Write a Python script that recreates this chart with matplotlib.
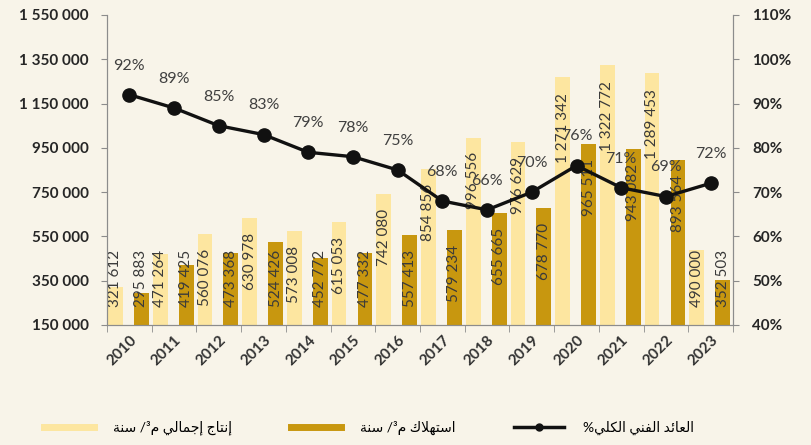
import matplotlib.pyplot as plt
from matplotlib.lines import Line2D
from matplotlib.ticker import FuncFormatter
import numpy as np

#%% Dados

anos = ['2010', '2011', '2012', '2013', '2014', '2015', '2016',
        '2017', '2018', '2019', '2020', '2021', '2022', '2023']
producao = [321612, 471264, 560076, 630978, 573008, 615053, 742080,
            854856, 996556, 976629, 1271342, 1322772, 1289453, 490000]
consumo = [295883, 419425, 473368, 524426, 452772, 477332, 557413,
           579234, 655665, 678770, 965511, 943082, 893564, 352503]
rendimento = [92, 89, 85, 83, 79, 78, 75, 68, 66, 70, 76, 71, 69, 72]

txt_producao = 'إنتاج إجمالي م³/ سنة'
txt_consumo = 'استهلاك م³/ سنة'
txt_rendimento = 'العائد الفني الكلي%'

#%% Arabic shaping (matplotlib has no shaping of its own)

# isolated, final, initial, medial
FORMAS = {
    'ا': ('\uFE8D', '\uFE8E'), 'إ': ('\uFE87', '\uFE88'),
    'د': ('\uFEA9', '\uFEAA'), 'ة': ('\uFE93', '\uFE94'),
    'ب': ('\uFE8F', '\uFE90', '\uFE91', '\uFE92'),
    'ت': ('\uFE95', '\uFE96', '\uFE97', '\uFE98'),
    'ج': ('\uFE9D', '\uFE9E', '\uFE9F', '\uFEA0'),
    'س': ('\uFEB1', '\uFEB2', '\uFEB3', '\uFEB4'),
    'ع': ('\uFEC9', '\uFECA', '\uFECB', '\uFECC'),
    'ف': ('\uFED1', '\uFED2', '\uFED3', '\uFED4'),
    'ك': ('\uFED9', '\uFEDA', '\uFEDB', '\uFEDC'),
    'ل': ('\uFEDD', '\uFEDE', '\uFEDF', '\uFEE0'),
    'م': ('\uFEE1', '\uFEE2', '\uFEE3', '\uFEE4'),
    'ن': ('\uFEE5', '\uFEE6', '\uFEE7', '\uFEE8'),
    'ه': ('\uFEE9', '\uFEEA', '\uFEEB', '\uFEEC'),
    'ي': ('\uFEF1', '\uFEF2', '\uFEF3', '\uFEF4'),
    'ئ': ('\uFE89', '\uFE8A', '\uFE8B', '\uFE8C'),
}
LAM_ALEF = {'ا': ('\uFEFB', '\uFEFC'), 'إ': ('\uFEF9', '\uFEFA')}


def shape(s):
    out = []
    i = 0
    while i < len(s):
        c = s[i]
        ant = s[i - 1] if i > 0 else ''
        liga_ant = ant in FORMAS and len(FORMAS[ant]) == 4
        if c not in FORMAS:
            out.append(c)
            i += 1
            continue
        prox = s[i + 1] if i + 1 < len(s) else ''
        if c == 'ل' and prox in LAM_ALEF:
            out.append(LAM_ALEF[prox][1 if liga_ant else 0])
            i += 2
            continue
        f = FORMAS[c]
        liga_prox = len(f) == 4 and prox in FORMAS
        if liga_ant and liga_prox:
            out.append(f[3])
        elif liga_ant:
            out.append(f[1])
        elif liga_prox:
            out.append(f[2])
        else:
            out.append(f[0])
        i += 1
    return ''.join(out)[::-1]

#%% Gráfico

fundo = '#F8F4E9'
cor_clara = '#FDE6A0'
cor_escura = '#C8970F'
cinza = '#8C8C8C'
plt.rcParams['font.family'] = ['Lato', 'DejaVu Sans']

fig = plt.figure(figsize=(8.11, 4.45), dpi=100, facecolor=fundo)
ax = fig.add_axes([107/811, 1 - 325/445, 626/811, 310/445], facecolor=fundo)
ax2 = ax.twinx()

x_pos = np.arange(len(anos))
ax.bar(x_pos - 0.31, producao, width=0.33, color=cor_clara, zorder=2)
ax.bar(x_pos + 0.27, consumo, width=0.33, color=cor_escura, zorder=2)

def rotulo(v):
    return f'{v:,}'.replace(',', ' ')

for xs, vals in [(x_pos - 0.31, producao), (x_pos + 0.27, consumo)]:
    for xi, v in zip(xs, vals):
        t = rotulo(v)
        off = 230000 if len(t) > 7 else 195000
        yc = max(v - off, 362000)
        ax.text(xi, yc, t, rotation=90, ha='center', va='center',
                fontsize=11, color='#3A3A3A', zorder=3)

ax.set_ylim(150000, 1550000)
ax.set_yticks(np.arange(150000, 1550001, 200000))
ax.yaxis.set_major_formatter(FuncFormatter(lambda v, p: rotulo(int(v))))
ax.set_xlim(-0.5, len(anos) - 0.5)
ax.set_xticks(x_pos)
ax.set_xticklabels(anos, rotation=45, ha='right', rotation_mode='anchor',
                   fontsize=11, fontweight='bold', color='#333333')
ax.set_xticks(np.arange(-0.5, len(anos)), minor=True)
ax.tick_params(axis='x', which='major', length=0, pad=6)
ax.tick_params(axis='x', which='minor', length=5, color=cinza)
ax.tick_params(axis='y', length=4, color=cinza, labelsize=11, pad=9)
for lb in ax.get_yticklabels():
    lb.set_fontweight('bold')
    lb.set_color('#262626')

ax2.plot(x_pos, rendimento, color='#111111', linewidth=2.4, marker='o',
         markersize=9.5, zorder=4)
for xi, v in zip(x_pos, rendimento):
    ax2.annotate(f'{v}%', (xi, v), xytext=(0, 21), textcoords='offset points',
                 ha='center', va='center', fontsize=11.5, color='#404040')
ax2.set_ylim(40, 110)
ax2.set_yticks(np.arange(40, 111, 10))
ax2.yaxis.set_major_formatter(FuncFormatter(lambda v, p: f'{int(v)}%'))
ax2.tick_params(axis='y', length=4, color=cinza, labelsize=11, pad=10)
for lb in ax2.get_yticklabels():
    lb.set_fontweight('bold')
    lb.set_color('#262626')

for a in (ax, ax2):
    a.spines['top'].set_visible(False)
    for s in ('left', 'right', 'bottom'):
        a.spines[s].set_color(cinza)

handles = [Line2D([0], [0], color=cor_clara, linewidth=5),
           Line2D([0], [0], color=cor_escura, linewidth=5),
           Line2D([0], [0], color='#111111', linewidth=2.5, marker='o', markersize=5)]
fig.legend(handles, [shape(txt_producao), shape(txt_consumo), shape(txt_rendimento)],
           loc='center', bbox_to_anchor=(0.455, 0.038), ncol=3, frameon=False,
           fontsize=10, handlelength=3.6, handletextpad=1.4, columnspacing=4.2)

plt.savefig('out.png', dpi=100, facecolor=fundo)
